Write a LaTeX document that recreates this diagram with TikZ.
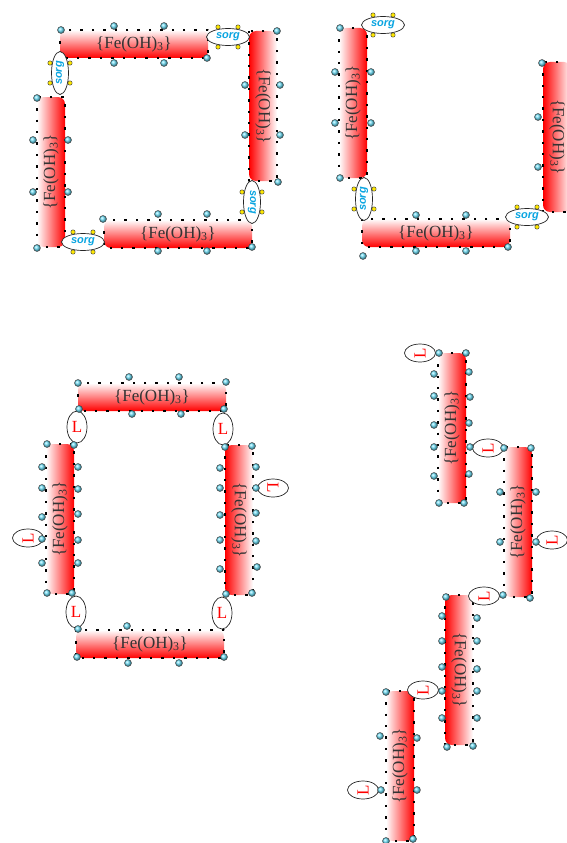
\documentclass[tikz,border=0pt]{standalone}
\usepackage{fontspec}
\setmainfont{Liberation Serif}
\setsansfont{Liberation Sans}
\usetikzlibrary{shapes.geometric}

\definecolor{sorgblue}{RGB}{10,165,225}
\definecolor{ballblue}{RGB}{110,225,250}
\newcommand{\feoh}{\{Fe(OH)\textsubscript{3}\}}

\begin{document}
\begin{tikzpicture}[x=1pt, y=-1pt, line join=round,
  bar/.style={rectangle, rounded corners=7pt, inner sep=0pt, text=black!80,
    font=\fontsize{17}{19}\selectfont},
  hbar/.style={bar, minimum width=148pt, minimum height=28pt, top color=white, bottom color=red},
  vbarL/.style={bar, minimum width=28pt, minimum height=150pt, left color=white, right color=red},
  vbarR/.style={bar, minimum width=28pt, minimum height=150pt, left color=red, right color=white},
  dotframe/.style={line width=2.4pt, line cap=butt, dash pattern=on 2.4pt off 9pt},
  sorg/.style={ellipse, draw=black!85, fill=white, line width=0.7pt, inner sep=0pt,
    minimum width=43pt, minimum height=17pt, text=sorgblue,
    font=\sffamily\bfseries\itshape\fontsize{11}{13}\selectfont},
  vsorg/.style={sorg, minimum width=17pt, minimum height=43pt},
  lig/.style={ellipse, draw=black!85, fill=white, line width=0.7pt, inner sep=0pt,
    minimum width=20pt, minimum height=32pt, text=red, font=\fontsize{17}{19}\selectfont},
  hlig/.style={lig, minimum width=31pt, minimum height=18pt},
  ball/.style={ball color=ballblue, draw=black!75, line width=0.45pt},
  ydot/.style={fill=yellow!90!orange, draw=black!75, line width=0.45pt}
]
  \useasboundingbox (0,0) rectangle (567,843);

  %--------------------------
  % Top left: closed ring with sorg
  %--------------------------
  \node[hbar]  (topA)   at (134,44)  {\feoh};
  \node[vbarR] (rightA) at (263,106) {\rotatebox{-90}{\feoh}};
  \node[hbar]  (botA)   at (178,234) {\feoh};
  \node[vbarL] (leftA)  at (51,172)  {\rotatebox{90}{\feoh}};
  \foreach \b in {topA,rightA,botA,leftA}
    \draw[dotframe] (\b.north west) rectangle (\b.south east);

  \node[sorg]  (sA1) at (228,37)  {sorg};
  \node[vsorg] (sA2) at (252,202) {\rotatebox{-90}{sorg}};
  \node[sorg]  (sA3) at (83,242)  {sorg};
  \node[vsorg] (sA4) at (60,73)   {\rotatebox{90}{sorg}};

  \foreach \x/\y in {61/30,114/26,164/26,114/63,164/63,207/58,
      277/31,245/85,280/85,245/135,280/135,278/182,
      103/219,158/214,207/214,252/247,158/251,207/251,
      37/98,33/140,68/140,33/192,68/192,37/248}
    \shadedraw[ball] (\x,\y) circle (3.5);

  %--------------------------
  % Top right: open chain with sorg
  %--------------------------
  \node[vbarL] (leftB)  at (353,103) {\rotatebox{90}{\feoh}};
  \node[hbar]  (botB)   at (436,233) {\feoh};
  \node[vbarR] (rightB) at (557,137) {\rotatebox{-90}{\feoh}};
  \foreach \b in {leftB,botB,rightB}
    \draw[dotframe] (\b.north west) rectangle (\b.south east);

  \node[sorg]  (sB1) at (383,25)  {sorg};
  \node[vsorg] (sB2) at (364,199) {\rotatebox{90}{sorg}};
  \node[sorg]  (sB3) at (527,217) {sorg};

  \foreach \x/\y in {340/28,335/72,371/72,335/123,371/123,340/178,
      416/215,466/215,416/251,466/251,508/247,363/256,
      542/63,538/117,538/167}
    \shadedraw[ball] (\x,\y) circle (3.5);

  % yellow dots on every sorg
  \foreach \s in {sA1,sA2,sA3,sA4,sB1,sB2,sB3}
    \foreach \dx/\dy in {-10/-10,10/-10,-10/10,10/10}
      \filldraw[ydot] ([shift={(\dx,\dy)}]\s.center) circle (2.2);

  %--------------------------
  % Bottom left: closed ring with L
  %--------------------------
  \node[hbar]  (topC)   at (152,397) {\feoh};
  \node[vbarL] (leftC)  at (60,519)  {\rotatebox{90}{\feoh}};
  \node[vbarR] (rightC) at (239,520) {\rotatebox{-90}{\feoh}};
  \node[hbar]  (botC)   at (150,644) {\feoh};
  \foreach \b in {topC,leftC,rightC,botC}
    \draw[dotframe] (\b.north west) rectangle (\b.south east);

  \node[lig]  (lC1) at (77,427)  {L};
  \node[lig]  (lC2) at (223,429) {L};
  \node[lig]  (lC3) at (76,612)  {L};
  \node[lig]  (lC4) at (222,613) {L};
  \node[hlig] (lC5) at (28,538)  {\rotatebox{90}{L}};
  \node[hlig] (lC6) at (273,488) {\rotatebox{-90}{L}};

  \foreach \x/\y in {78/383,129/377,179/377,226/382,79/409,132/414,181/414,224/409,
      47/444,74/445,42/467,78/467,42/488,78/489,42/517,78/514,42/539,78/540,
      42/563,78/563,47/593,72/593,
      225/447,252/446,220/468,256/467,220/488,256/488,220/515,256/513,
      220/540,256/541,220/569,257/567,226/594,252/593,
      78/629,127/626,77/657,128/663,179/663,224/657}
    \shadedraw[ball] (\x,\y) circle (3.5);

  %--------------------------
  % Bottom right: zig-zag chain with L
  %--------------------------
  \node[vbarL] (d1) at (452,428) {\rotatebox{90}{\feoh}};
  \node[vbarL] (d2) at (518,522) {\rotatebox{90}{\feoh}};
  \node[vbarR] (d3) at (459,670) {\rotatebox{-90}{\feoh}};
  \node[vbarL] (d4) at (400,766) {\rotatebox{90}{\feoh}};
  \foreach \b in {d1,d2,d3,d4}
    \draw[dotframe] (\b.north west) rectangle (\b.south east);

  \node[hlig] (lD1) at (420,353) {\rotatebox{90}{L}};
  \node[hlig] (lD2) at (488,448) {\rotatebox{90}{L}};
  \node[hlig] (lD3) at (552,540) {\rotatebox{90}{L}};
  \node[hlig] (lD4) at (484,596) {\rotatebox{90}{L}};
  \node[hlig] (lD5) at (423,690) {\rotatebox{90}{L}};
  \node[hlig] (lD6) at (363,790) {\rotatebox{90}{L}};

  \foreach \x/\y in {439/353,466/353,434/374,469/372,434/396,470/397,434/425,469/423,
      434/447,470/447,434/476,469/474,439/503,464/503,
      504/448,531/448,500/492,536/492,500/542,536/542,503/595,530/598,
      446/597,442/616,477/618,442/641,477/641,442/667,477/669,442/691,477/691,
      442/718,477/718,447/747,473/746,
      386/692,380/736,417/738,381/790,417/790,386/841,413/839}
    \shadedraw[ball] (\x,\y) circle (3.5);

\end{tikzpicture}
\end{document}
